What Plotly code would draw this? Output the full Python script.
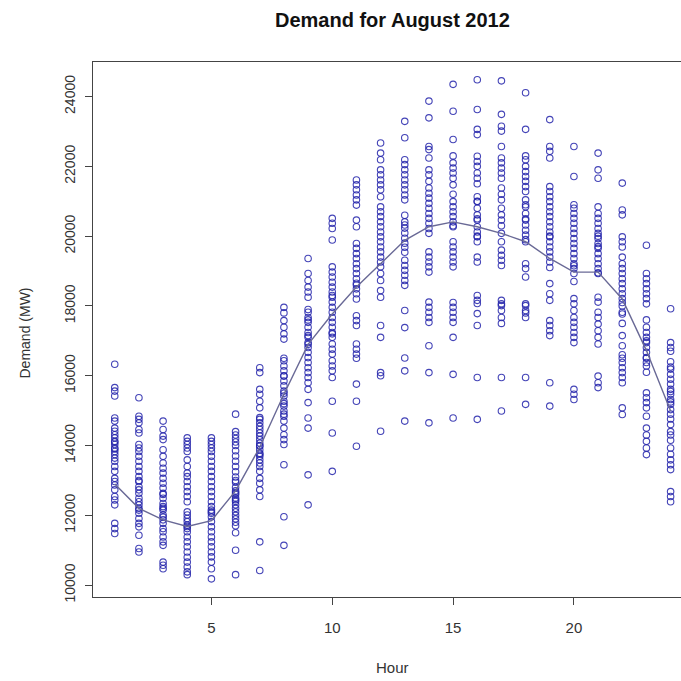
import plotly.graph_objects as go

# Hourly electricity demand (MW), one value per day of August 2012
demand_h01 = [16330, 15660, 15560, 15420, 14790, 14700, 14500, 14410, 14310, 14220, 14120, 14100, 14030, 13930, 13900, 13830, 13740, 13640, 13550, 13400, 13260, 13060, 12970, 12870, 12730, 12540, 12440, 12300, 11770, 11620, 11480]
demand_h02 = [15370, 14840, 14750, 14650, 14460, 14360, 14030, 13930, 13830, 13690, 13550, 13400, 13260, 13110, 12970, 12820, 12730, 12630, 12490, 12390, 12300, 12200, 12060, 11910, 11770, 11670, 11430, 11050, 10950, 12150, 13000]
demand_h03 = [14700, 14460, 14270, 14170, 13880, 13690, 13500, 13350, 13210, 13060, 12920, 12780, 12630, 12490, 12340, 12250, 12150, 12010, 11870, 11770, 11620, 11530, 11380, 11240, 11140, 10660, 10570, 10470, 12600, 12200, 11950]
demand_h04 = [14220, 14120, 14030, 13930, 13830, 13590, 13400, 13210, 13110, 12970, 12820, 12680, 12540, 12390, 12100, 12010, 11910, 11820, 11720, 11620, 11530, 11380, 11240, 11100, 10950, 10800, 10660, 10520, 10380, 10300, 11680]
demand_h05 = [14220, 14120, 14030, 13930, 13830, 13690, 13550, 13400, 13260, 13110, 12970, 12820, 12680, 12540, 12390, 12250, 12150, 12060, 11960, 11820, 11670, 11530, 11380, 11240, 11100, 10950, 10810, 10660, 10470, 10180, 12100]
demand_h06 = [14900, 14400, 14300, 14200, 14100, 14000, 13850, 13700, 13550, 13400, 13250, 13100, 12950, 12800, 12650, 12500, 12400, 12300, 12200, 12100, 12000, 11900, 11800, 11700, 11500, 11000, 10300, 13000, 12700, 12600, 12450]
demand_h07 = [16230, 16090, 15610, 15470, 15270, 15080, 14750, 14650, 14550, 14460, 14360, 14270, 14170, 14070, 13980, 13880, 13780, 13690, 13590, 13500, 13400, 13260, 13060, 12920, 12730, 12540, 11240, 10420, 14800, 14000, 13750]
demand_h08 = [17960, 17580, 17390, 17200, 17050, 16430, 16280, 16140, 15990, 15850, 15710, 15560, 15420, 15270, 15130, 14990, 14840, 14700, 14500, 14310, 14170, 14030, 13450, 11960, 11140, 17800, 16500, 16000, 15500, 15200, 14900]
demand_h09 = [19360, 18930, 18730, 18540, 18400, 18250, 17820, 17670, 17530, 17390, 17240, 17100, 16950, 16810, 16670, 16520, 16380, 16230, 16090, 15950, 15800, 15610, 15230, 14790, 14500, 13160, 12300, 17900, 17600, 17150, 16900]
demand_h10 = [20510, 20370, 20220, 19890, 19120, 18970, 18830, 18680, 18540, 18400, 18250, 18110, 17960, 17820, 17670, 17530, 17390, 17240, 17100, 16910, 16760, 16620, 16430, 16280, 16140, 15950, 15270, 14360, 13260, 18300, 17200]
demand_h11 = [21610, 21470, 21330, 21180, 21040, 20890, 20460, 20270, 19790, 19650, 19500, 19360, 19210, 19070, 18930, 18780, 18650, 18490, 18350, 17720, 17580, 17440, 16910, 16760, 16620, 15760, 15270, 13980, 18600, 18200, 16500]
demand_h12 = [22670, 22380, 22190, 21900, 21760, 21610, 21470, 21330, 21130, 20840, 20700, 20560, 20410, 20270, 20120, 19980, 19840, 19690, 19550, 19400, 19260, 19120, 18930, 18730, 18440, 18250, 17440, 17100, 16090, 16000, 14410]
demand_h13 = [23290, 22820, 22190, 22050, 21900, 21760, 21610, 21470, 21330, 21180, 21040, 20410, 20320, 20230, 20090, 19940, 19800, 19680, 19540, 19310, 19160, 19020, 18880, 18730, 18590, 17870, 17380, 16510, 16140, 14700, 20600]
demand_h14 = [23870, 23390, 22570, 22480, 22240, 21900, 21760, 21570, 21380, 21230, 21090, 20940, 20800, 20650, 20510, 20370, 20220, 20080, 19550, 19400, 19260, 19120, 18970, 18110, 17960, 17820, 17670, 17530, 16860, 16090, 14650]
demand_h15 = [24350, 23580, 22770, 22100, 21950, 21810, 21660, 21470, 20990, 20840, 20700, 20560, 20410, 20270, 19840, 19690, 19550, 19400, 19260, 19120, 17960, 17820, 17670, 17530, 17100, 16040, 14790, 22300, 21200, 20300, 18100]
demand_h16 = [24480, 23630, 23060, 22910, 22290, 22140, 22000, 21810, 21660, 21130, 20990, 20800, 20610, 20460, 20270, 20120, 19980, 19840, 19400, 19260, 18160, 18070, 17780, 17440, 15950, 14750, 21500, 21000, 20500, 20000, 18300]
demand_h17 = [24450, 23490, 23150, 23010, 22570, 22240, 22100, 21950, 21810, 21660, 21380, 21040, 20610, 20460, 20080, 19840, 19450, 19310, 19160, 18160, 18010, 17870, 17670, 15950, 14990, 21200, 20800, 20300, 19600, 17500, 18060]
demand_h18 = [24110, 23060, 22190, 22000, 21850, 21710, 21570, 21420, 21280, 21040, 20840, 20650, 20460, 20320, 20170, 20030, 19840, 19210, 19070, 18830, 18010, 18060, 17870, 17670, 15950, 15180, 22300, 20900, 20500, 19900, 17800]
demand_h19 = [23340, 22570, 22430, 22240, 21420, 21280, 21130, 20990, 20840, 20700, 20560, 20410, 20270, 20120, 19980, 19840, 19690, 19550, 19400, 19260, 18640, 18350, 18160, 17580, 17440, 17290, 17150, 15800, 15130, 20000, 19100]
demand_h20 = [22570, 21710, 20800, 20650, 20510, 20370, 20220, 20080, 19930, 19790, 19650, 19500, 19360, 19210, 19070, 18930, 18210, 18060, 17870, 17670, 17530, 17390, 17240, 17100, 16950, 15610, 15470, 15320, 20900, 19150, 18700]
demand_h21 = [22380, 21660, 20840, 20650, 20510, 20370, 20220, 20080, 19930, 19790, 19650, 19500, 19360, 19210, 19070, 18930, 18250, 18110, 17820, 17670, 17480, 17290, 17100, 16910, 15990, 15800, 15660, 21900, 20000, 19700, 18950]
demand_h22 = [21520, 20750, 20610, 19980, 19840, 19690, 19210, 19070, 18930, 18780, 18640, 18490, 18350, 18210, 17820, 17770, 17150, 16860, 16380, 16230, 16090, 15950, 15800, 15080, 14890, 18000, 18100, 17500, 16600, 16500, 19400]
demand_h23 = [19740, 18930, 18780, 18640, 18490, 18350, 18210, 18060, 17390, 17240, 17100, 16950, 16810, 16670, 16520, 16380, 16280, 15510, 15370, 15230, 15080, 14840, 14120, 13930, 13740, 17600, 17000, 16500, 16100, 14500, 14300]
demand_h24 = [17920, 16950, 16810, 16700, 16400, 16190, 16040, 15900, 15760, 15610, 15470, 15320, 15180, 15030, 14900, 14760, 14600, 14400, 13930, 13750, 13590, 13450, 13310, 12680, 12540, 12390, 14300, 14150, 15250, 15550, 16250]

hours = list(range(1, 25))
hourly_demand = [
    demand_h01, demand_h02, demand_h03, demand_h04, demand_h05, demand_h06,
    demand_h07, demand_h08, demand_h09, demand_h10, demand_h11, demand_h12,
    demand_h13, demand_h14, demand_h15, demand_h16, demand_h17, demand_h18,
    demand_h19, demand_h20, demand_h21, demand_h22, demand_h23, demand_h24,
]

# Smoothed demand profile by hour
fitted_demand = [12900, 12200, 11870, 11680, 11850, 12700, 13950, 15470, 16900, 17770,
                 18540, 19210, 19880, 20270, 20410, 20270, 20080, 19840, 19360, 18970,
                 18970, 18200, 16720, 14990]

x_tick_vals = [5, 10, 15, 20]
y_tick_vals = [10000, 12000, 14000, 16000, 18000, 20000, 22000, 24000]
y_tick_text = ["10000", "12000", "14000", "16000", "18000", "20000", "22000", "24000"]

xs, ys = [], []
for h, vals in zip(hours, hourly_demand):
    xs.extend([h] * len(vals))
    ys.extend(vals)

fig = go.Figure()
fig.add_trace(go.Scatter(
    x=xs, y=ys, mode="markers",
    marker=dict(symbol="circle-open", size=6.5, color="rgba(35,35,170,0.85)",
                line=dict(width=1.1)),
    hoverinfo="skip", showlegend=False,
))
fig.add_trace(go.Scatter(
    x=hours, y=fitted_demand, mode="lines",
    line=dict(color="rgb(105,105,150)", width=1.4),
    hoverinfo="skip", showlegend=False,
))

font_family = "Liberation Sans, Arial, sans-serif"
axis_color = "#444"

fig.update_layout(
    width=681, height=681,
    margin=dict(l=93, r=0, t=62, b=84),
    paper_bgcolor="white", plot_bgcolor="white",
    font=dict(family=font_family, size=14, color="#333"),
    xaxis=dict(
        range=[0.1, 24.43], tickvals=x_tick_vals, ticks="outside", ticklen=7,
        tickcolor=axis_color, showgrid=False, zeroline=False,
        showline=True, linecolor=axis_color, linewidth=1, mirror=True,
        tickfont=dict(size=15), ticklabelstandoff=10,
    ),
    yaxis=dict(
        range=[9660, 24990], tickvals=y_tick_vals, ticktext=y_tick_text,
        ticks="outside", ticklen=7,
        tickcolor=axis_color, showgrid=False, zeroline=False,
        showline=True, linecolor=axis_color, linewidth=1, mirror=False,
        tickangle=-90, tickfont=dict(size=14), ticklabelstandoff=4,
    ),
    annotations=[
        dict(text="<b>Demand for August 2012</b>", xref="paper", yref="paper",
             x=0.51, y=1, yshift=55, showarrow=False,
             font=dict(size=20, color="#111")),
        dict(text="Hour", xref="paper", yref="paper", x=0.51, y=0,
             yshift=-81, showarrow=False, font=dict(size=15, color="#333")),
        dict(text="Demand (MW)", xref="paper", yref="paper", x=0, y=0.5,
             xshift=-79, yshift=-4, textangle=-90, showarrow=False,
             font=dict(size=14, color="#333")),
    ],
)

fig.write_html("out.html")
